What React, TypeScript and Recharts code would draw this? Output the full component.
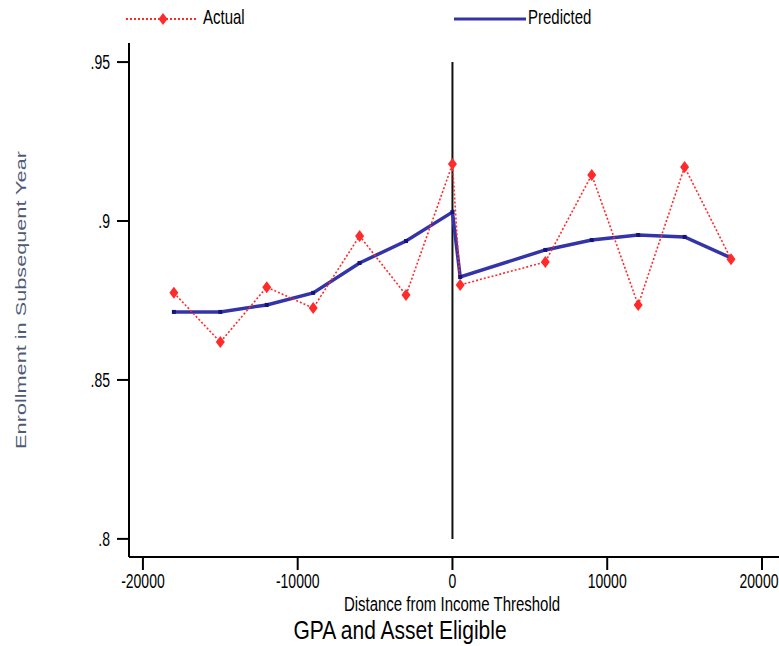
import React from "react";
import { LineChart, Line, XAxis, YAxis, ReferenceLine } from "recharts";

// distance from income threshold (x), one entry per bin
const distance = [-18000, -15000, -12000, -9000, -6000, -3000, 0, 500, 6000, 9000, 12000, 15000, 18000];
const actual = [0.8774, 0.8619, 0.8792, 0.8726, 0.8953, 0.8767, 0.9179, 0.8799, 0.8871, 0.9145, 0.8736, 0.917, 0.888];
const predicted = [0.8714, 0.8714, 0.8736, 0.8774, 0.8868, 0.8937, 0.9028, 0.8824, 0.8909, 0.894, 0.8956, 0.895, 0.8884];

const xTicks = [-20000, -10000, 0, 10000, 20000];
const yTicks = [0.8, 0.85, 0.9, 0.95];

const rows = distance.map((x, i) => ({ x, actual: actual[i], predicted: predicted[i] }));

const FONT = "'Liberation Sans', Arial, sans-serif";
const STRETCH = 1.4;
const RED = "#ff2a2a";
const BLUE = "#3434a8";

const fmtY = (v: number) => String(v).replace(/^0/, "");

const YTick = ({ x, y, payload }: any) => (
  <text
    transform={`translate(${x},${y}) scale(1,${STRETCH})`}
    textAnchor="end"
    dy="0.36em"
    fontFamily={FONT}
    fontSize={14}
    fill="#000"
  >
    {fmtY(payload.value)}
  </text>
);

const XTick = ({ x, y, payload }: any) => (
  <text
    transform={`translate(${x},${y}) scale(1,${STRETCH})`}
    textAnchor="middle"
    dy="0.72em"
    fontFamily={FONT}
    fontSize={14}
    fill="#000"
  >
    {payload.value}
  </text>
);

const XTitle = () => (
  <g>
    <text
      transform="translate(452,611) scale(1,1.3)"
      textAnchor="middle"
      fontFamily={FONT}
      fontSize={15}
      fill="#000"
    >
      Distance from Income Threshold
    </text>
    <text
      transform="translate(400,639) scale(1,1.2)"
      textAnchor="middle"
      fontFamily={FONT}
      fontSize={21}
      fill="#000"
    >
      GPA and Asset Eligible
    </text>
  </g>
);

const YTitle = ({ viewBox }: any) => {
  const cx = 26;
  const cy = viewBox ? viewBox.y + viewBox.height / 2 : 300;
  return (
    <text
      transform={`translate(${cx},${cy}) rotate(-90) scale(1.55,1)`}
      textAnchor="middle"
      fontFamily={FONT}
      fontSize={14}
      fill="#4e5a76"
    >
      Enrollment in Subsequent Year
    </text>
  );
};

const Diamond = ({ cx, cy }: any) => (
  <polygon
    points={`${cx},${cy - 6} ${cx + 4.5},${cy} ${cx},${cy + 6} ${cx - 4.5},${cy}`}
    fill={RED}
  />
);

const Square = ({ cx, cy }: any) => (
  <rect x={cx - 2} y={cy - 2} width={4} height={4} fill="#14147a" />
);

const LegendBar = () => (
  <svg width={779} height={40} style={{ position: "absolute", left: 0, top: 0 }}>
    <line x1={126} y1={19} x2={198} y2={19} stroke={RED} strokeWidth={2} strokeDasharray="2 2" />
    <polygon points="163,13 167.5,19 163,25 158.5,19" fill={RED} />
    <text transform={`translate(203,24) scale(1,${STRETCH})`} fontFamily={FONT} fontSize={15} fill="#000">
      Actual
    </text>
    <line x1={454} y1={19} x2={526} y2={19} stroke={BLUE} strokeWidth={3} />
    <text transform={`translate(528,24) scale(1,${STRETCH})`} fontFamily={FONT} fontSize={15} fill="#000">
      Predicted
    </text>
  </svg>
);

export default function App() {
  return (
    <div style={{ position: "absolute", left: 0, top: 0, width: 779, height: 646, background: "#fff" }}>
      <LineChart width={779} height={646} data={rows} margin={{ top: 43, right: 0, bottom: 0, left: 0 }}>
        <XAxis
          type="number"
          dataKey="x"
          domain={[-20900, 21100]}
          ticks={xTicks}
          height={89}
          tickSize={13}
          tickMargin={4}
          axisLine={{ stroke: "#000", strokeWidth: 2 }}
          tickLine={{ stroke: "#000", strokeWidth: 2 }}
          tick={<XTick />}
          label={<XTitle />}
        />
        <YAxis
          type="number"
          domain={[0.7943, 0.956]}
          ticks={yTicks}
          width={129}
          tickSize={12}
          tickMargin={7}
          axisLine={{ stroke: "#000", strokeWidth: 2 }}
          tickLine={{ stroke: "#000", strokeWidth: 2 }}
          tick={<YTick />}
          label={<YTitle />}
        />
        <ReferenceLine
          segment={[
            { x: 0, y: 0.95 },
            { x: 0, y: 0.8 },
          ]}
          stroke="#111"
          strokeWidth={2}
        />
        <Line
          dataKey="predicted"
          stroke={BLUE}
          strokeWidth={3.5}
          dot={<Square />}
          isAnimationActive={false}
        />
        <Line
          dataKey="actual"
          stroke={RED}
          strokeWidth={1.6}
          strokeDasharray="2 2"
          dot={<Diamond />}
          isAnimationActive={false}
        />
      </LineChart>
      <LegendBar />
    </div>
  );
}
